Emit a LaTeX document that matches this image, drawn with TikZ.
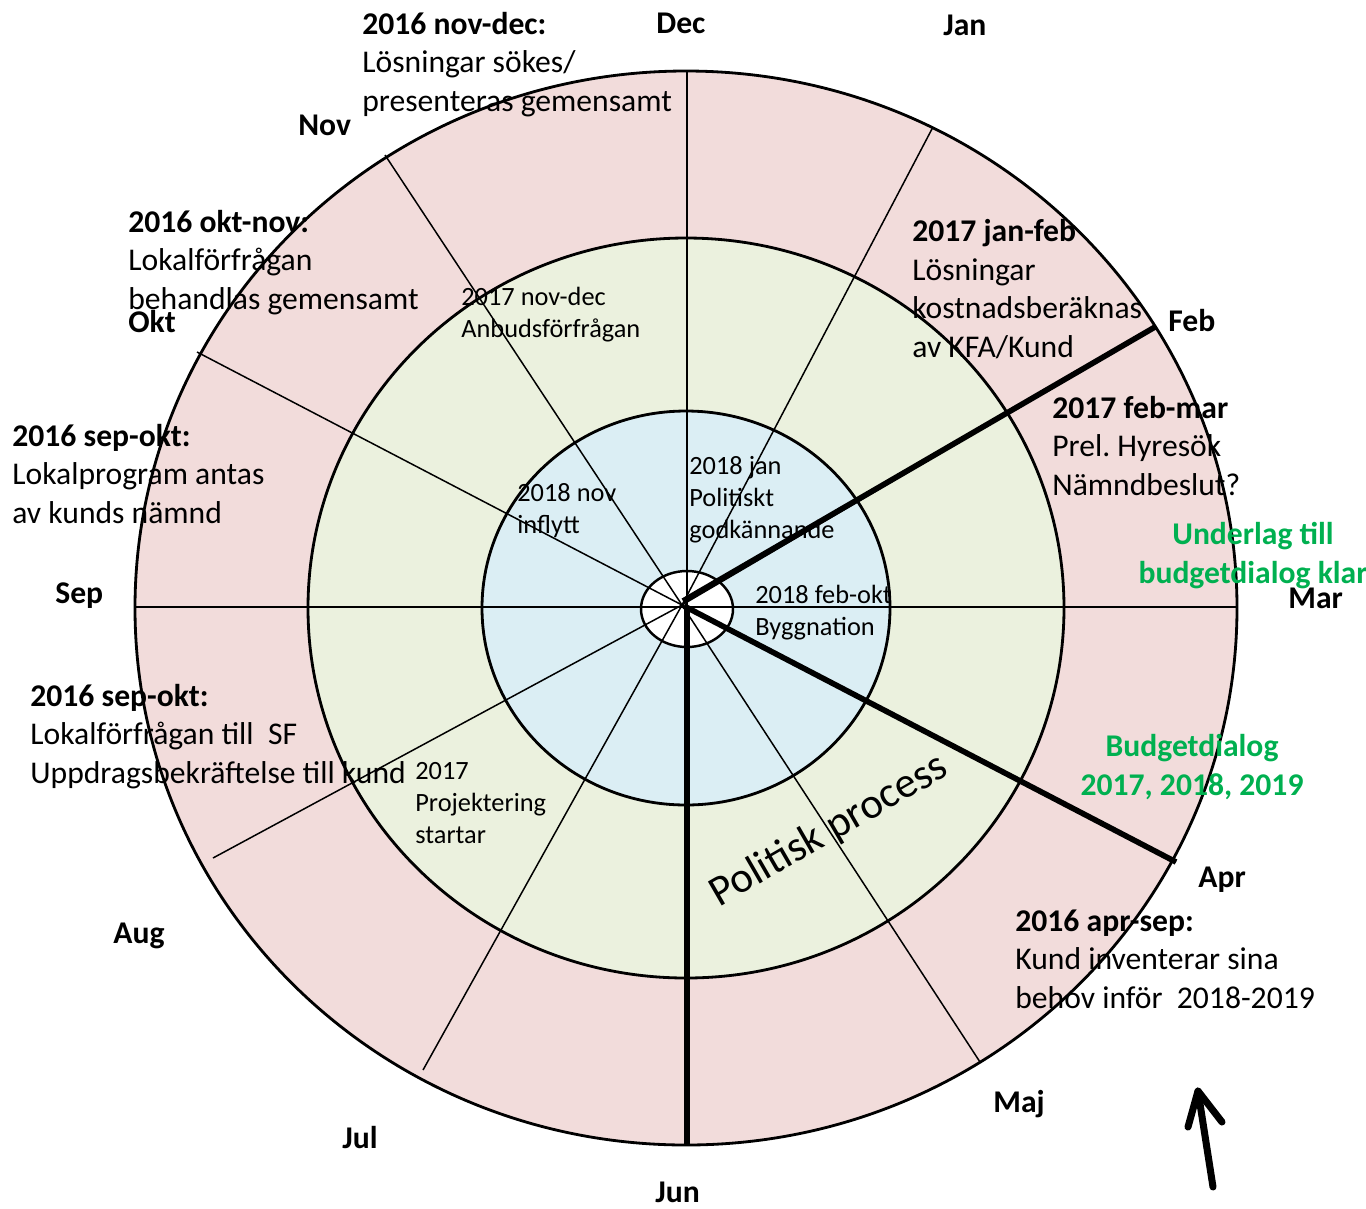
\documentclass[tikz,border=0pt]{standalone}
\usepackage{fontspec}
\setmainfont{Carlito}
\frenchspacing
\definecolor{ringpink}{RGB}{242,220,219}
\definecolor{ringgreen}{RGB}{235,241,222}
\definecolor{ringblue}{RGB}{219,238,244}
\definecolor{textgreen}{RGB}{0,176,80}
\begin{document}
\begin{tikzpicture}[x=0.02cm, y=-0.02cm,
  bigtxt/.style={font=\fontsize{18pt}{21.9pt}\selectfont, align=left, inner sep=0pt, anchor=base west},
  smalltxt/.style={font=\fontsize{15pt}{18.2pt}\selectfont, align=left, inner sep=0pt, anchor=base west},
  month/.style={font=\bfseries\fontsize{18pt}{21.9pt}\selectfont, inner sep=0pt, anchor=base west},
  greentxt/.style={font=\bfseries\fontsize{18pt}{21.9pt}\selectfont, text=textgreen, align=center, inner sep=0pt, anchor=base},
  ring/.style={draw=black, line width=1.6pt},
  spoke/.style={draw=black, line width=0.85pt},
  thickspoke/.style={draw=black, line width=3.2pt},
  arrowline/.style={draw=black, line width=4pt, line cap=round, line join=round}
]
\path[use as bounding box] (0,0) rectangle (1366,1208);

% rings
\coordinate (C) at (686,608);
\path[ring, fill=ringpink] (C) ellipse [x radius=551, y radius=537];
\path[ring, fill=ringgreen] (C) ellipse [x radius=378, y radius=370];
\path[ring, fill=ringblue] (C) ellipse [x radius=204, y radius=197];
\path[ring, line width=1.4pt, fill=white] (687,609) ellipse [x radius=46, y radius=38];

% spokes
\coordinate (O) at (682,605);
\coordinate (decin) at (687,607);
\coordinate (dec) at (687,72);
\coordinate (jan) at (933,127);
\coordinate (feb) at (1155,327);
\coordinate (sep) at (135,607);
\coordinate (mar) at (1237,607);
\coordinate (apr) at (1176,862);
\coordinate (maj) at (980,1062);
\coordinate (jun) at (687,1145);
\coordinate (jul) at (423,1070);
\coordinate (aug) at (213,858);
\coordinate (okt) at (197,352);
\coordinate (nov) at (385,155);

\draw[spoke] (decin) -- (dec);
\draw[spoke] (sep) -- (mar);
\draw[spoke] (O) -- (jan);
\draw[spoke] (O) -- (feb);
\draw[spoke] (O) -- (apr);
\draw[spoke] (O) -- (maj);
\draw[spoke] (O) -- (jul);
\draw[spoke] (O) -- (aug);
\draw[spoke] (O) -- (okt);
\draw[spoke] (O) -- (nov);

\coordinate (febin) at (683,601);
\coordinate (aprin) at (684,606);
\draw[thickspoke] (febin) -- (feb);
\draw[thickspoke] (aprin) -- (apr);
\draw[thickspoke] (decin) -- (jun);

% month labels
\node[month] (mDec) at (656,33) {Dec};
\node[month] (mJan) at (943,35) {Jan};
\node[month] (mNov) at (298,135) {Nov};
\node[month] (mOkt) at (128,332) {Okt};
\node[month] (mFeb) at (1168,331) {Feb};
\node[month] (mSep) at (55,603) {Sep};
\node[month] (mMar) at (1288,608) {Mar};
\node[month] (mApr) at (1198,887) {Apr};
\node[month] (mAug) at (113,943) {Aug};
\node[month] (mMaj) at (993,1112) {Maj};
\node[month] (mJul) at (342,1148) {Jul};
\node[month] (mJun) at (655,1202) {Jun};

% outer ring texts (anchor = baseline of last line)
\node[bigtxt] (t1) at (362,111) {\textbf{2016 nov-dec:}\\Lösningar sökes/\\presenteras gemensamt};
\node[bigtxt] (t2) at (128,309) {\textbf{2016 okt-nov:}\\Lokalförfrågan\\behandlas gemensamt};
\node[bigtxt] (t3) at (912,357) {\textbf{2017 jan-feb}\\Lösningar\\kostnadsberäknas\\av KFA/Kund};
\node[bigtxt] (t4) at (1052,495) {\textbf{2017 feb-mar}\\Prel. Hyresök\\Nämndbeslut?};
\node[bigtxt] (t5) at (12,523) {\textbf{2016 sep-okt:}\\Lokalprogram antas\\av kunds nämnd};
\node[bigtxt] (t6) at (30,783) {\textbf{2016 sep-okt:}\\Lokalförfrågan till\ \ SF\\Uppdragsbekräftelse till kund};
\node[bigtxt] (t7) at (1015,1008) {\textbf{2016 apr-sep:}\\Kund inventerar sina\\behov inför\ \ 2018-2019};

% inner texts
\node[smalltxt] (s1) at (461,337) {2017 nov-dec\\Anbudsförfrågan};
\node[smalltxt] (s2) at (517,533) {2018 nov\\inflytt};
\node[smalltxt] (s3) at (689,538) {2018 jan\\Politiskt\\godkännande};
\node[smalltxt] (s4) at (755,635) {2018 feb-okt\\Byggnation};
\node[smalltxt] (s5) at (415,843) {2017\\Projektering\\startar};

% green texts
\node[greentxt] (g1) at (1253,583) {Underlag till\\budgetdialog klar};
\node[greentxt] (g2) at (1192,795) {Budgetdialog\\2017, 2018, 2019};

% rotated text
\node[font=\fontsize{24.5pt}{28pt}\selectfont, rotate=30, inner sep=0pt] (pp) at (829,831) {Politisk process};

% arrow
\coordinate (atail) at (1213,1187);
\coordinate (atip) at (1198,1091);
\coordinate (aleft) at (1188,1127);
\coordinate (aright) at (1222,1122);
\draw[arrowline] (atail) -- (atip);
\draw[arrowline] (aleft) -- (atip) -- (aright);
\end{tikzpicture}
\end{document}
